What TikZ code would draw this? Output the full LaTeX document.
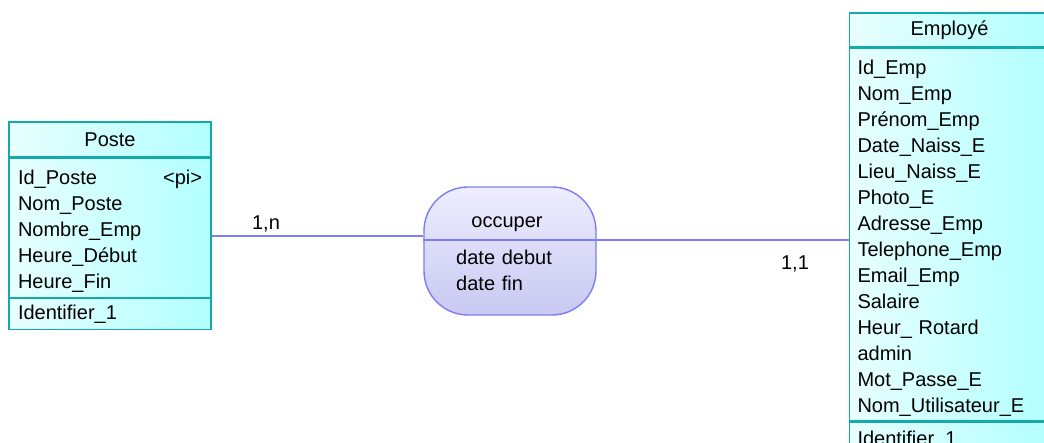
\documentclass[tikz,border=0pt]{standalone}
\usepackage{fontspec}
\setmainfont{Liberation Sans}
\usetikzlibrary{positioning}

\definecolor{entline}{RGB}{20,170,170}
\definecolor{entlight}{RGB}{232,255,255}
\definecolor{entdark}{RGB}{178,255,255}
\definecolor{relline}{RGB}{125,125,245}
\definecolor{rellight}{RGB}{238,238,255}
\definecolor{reldark}{RGB}{200,200,242}

\tikzstyle{entity} = [draw=entline, line width=1.4pt, left color=entlight, right color=entdark, inner sep=0pt, font=\fontsize{20}{26}\selectfont]
\tikzstyle{enthead} = [entity, minimum height=35pt]
\tikzstyle{entattr} = [entity, align=left, inner xsep=9pt, text height=22pt]
\tikzstyle{relation} = [draw=relline, line width=1.4pt, rounded corners=44pt, top color=rellight, bottom color=reldark, minimum width=172pt, minimum height=128pt]
\tikzstyle{link} = [draw=relline, line width=1.4pt]
\tikzstyle{cardinal} = [inner sep=0pt, font=\fontsize{20}{26}\selectfont]

\begin{document}
\begin{tikzpicture}[x=1pt,y=-1pt]
	\useasboundingbox (0,0) rectangle (1044,443);

	% Poste
	\node[enthead, minimum width=202pt] (poste) at (110,139.5) {Poste};
	\node[entattr, text width=184pt, minimum height=139pt, below=0pt of poste] (posteattr) {Id\_Poste\hfill<pi>\\Nom\_Poste\\Nombre\_Emp\\Heure\_Début\\Heure\_Fin};
	\node[entattr, text width=184pt, minimum height=31pt, text height=15pt, below=0pt of posteattr] (posteid) {Identifier\_1};

	% Employé
	\node[enthead, minimum width=200pt, minimum height=34pt] (employe) at (949.5,30) {Employé};
	\node[entattr, text width=184pt, inner xsep=8pt, minimum height=372pt, below=0pt of employe] (employeattr) {Id\_Emp\\Nom\_Emp\\Prénom\_Emp\\Date\_Naiss\_E\\Lieu\_Naiss\_E\\Photo\_E\\Adresse\_Emp\\Telephone\_Emp\\Email\_Emp\\Salaire\\Heur\_ Rotard\\admin\\Mot\_Passe\_E\\Nom\_Utilisateur\_E};
	\node[entattr, text width=184pt, inner xsep=8pt, minimum height=36pt, text height=15pt, below=0pt of employeattr] (employeid) {Identifier\_1};

	% occuper
	\node[relation] (occuper) at (510,251) {};
	\node[cardinal] (occname) at (507,224) {occuper};
	\node[cardinal, anchor=base west, text width=120pt, align=left] (occattr) at (456,265) {date debut\\date fin};
	\coordinate (occdiv) at (510,240);
	\draw[link] (occuper.west |- occdiv) -- (occuper.east |- occdiv);

	\draw[link] ([yshift=-8pt]posteattr.east) -- ([yshift=-8pt]posteattr.east -| occuper.west);
	\draw[link] (occuper.east |- occdiv) -- (employeattr.west |- occdiv);

	\node[cardinal] (card1) at (266,224) {1,n};
	\node[cardinal] (card2) at (795,264) {1,1};
\end{tikzpicture}
\end{document}
